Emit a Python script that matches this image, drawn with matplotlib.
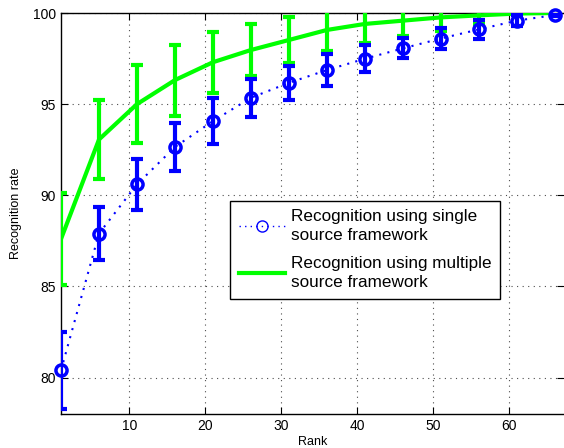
import matplotlib
matplotlib.use("Agg")
import matplotlib.pyplot as plt
from matplotlib.lines import Line2D

plt.rcParams['font.family'] = ['Liberation Sans', 'DejaVu Sans']

rank = [1, 6, 11, 16, 21, 26, 31, 36, 41, 46, 51, 56, 61, 66]
single_mean = [80.4, 87.9, 90.6, 92.65, 94.07, 95.35, 96.17, 96.87, 97.49, 98.06, 98.6, 99.1, 99.58, 99.89]
single_err = [2.1, 1.45, 1.4, 1.32, 1.25, 1.05, 0.92, 0.88, 0.75, 0.55, 0.55, 0.52, 0.32, 0.05]
multi_mean = [87.6, 93.06, 95.0, 96.32, 97.3, 97.97, 98.52, 99.07, 99.4, 99.58, 99.76, 99.87, 99.97, 100.0]
multi_err = [2.5, 2.15, 2.12, 1.95, 1.68, 1.45, 1.28, 1.17, 1.03, 0.84, 0.73, 0.47, 0.08, 0.02]

label_single = "Recognition using single\nsource framework"
label_multi = "Recognition using multiple\nsource framework"

fig = plt.figure(figsize=(5.64, 4.48), dpi=100)
ax = fig.add_axes([61/564, 1-414/448, 1-61/564, (414-13)/448])

ax.errorbar(rank, multi_mean, yerr=multi_err, color=(0, 1, 0), lw=3,
            elinewidth=3, capsize=4, capthick=3, zorder=3)
ax.errorbar(rank, single_mean, yerr=single_err, color=(0, 0, 1), lw=1.5,
            linestyle=(0, (1, 3)), marker='none', ecolor=(0, 0, 1), elinewidth=3,
            capsize=4, capthick=3, zorder=4)
ax.plot(rank, single_mean, linestyle='none', marker='o', markersize=8,
        mfc='none', mec=(0, 0, 1), mew=2.5, clip_on=False, zorder=5)

ax.set_xlim(1, 67.2)
ax.set_ylim(78, 100)
ax.set_xticks([10, 20, 30, 40, 50, 60])
ax.set_yticks([80, 85, 90, 95, 100])
ax.tick_params(direction='in', length=5, top=True, right=True, labelsize=10)
ax.grid(True, linestyle=(0, (1, 4)), color='black', lw=0.8, alpha=0.7)
ax.spines['right'].set_visible(False)
for s in ['left', 'top', 'bottom']:
    ax.spines[s].set_linewidth(1)

ax.set_xlabel("Rank", fontsize=9, labelpad=2)
ax.set_ylabel("Recognition rate", fontsize=9, labelpad=8)

h1 = Line2D([], [], color=(0, 0, 1), lw=1, linestyle=(0, (1, 3)), marker='o',
            markersize=8, mfc='none', mew=1)
h2 = Line2D([], [], color=(0, 1, 0), lw=3)
leg = ax.legend([h1, h2], [label_single, label_multi], loc='upper left',
                bbox_to_anchor=(0.336, 0.532), borderaxespad=0,
                fancybox=False, framealpha=1, edgecolor='black',
                handlelength=2.7, labelspacing=0.75, borderpad=0.5,
                handletextpad=0.35, prop={'size': 12.3})
leg.get_frame().set_linewidth(1)
for t in leg.get_texts():
    t.set_linespacing(1.35)

fig.savefig("out.png", dpi=100)
